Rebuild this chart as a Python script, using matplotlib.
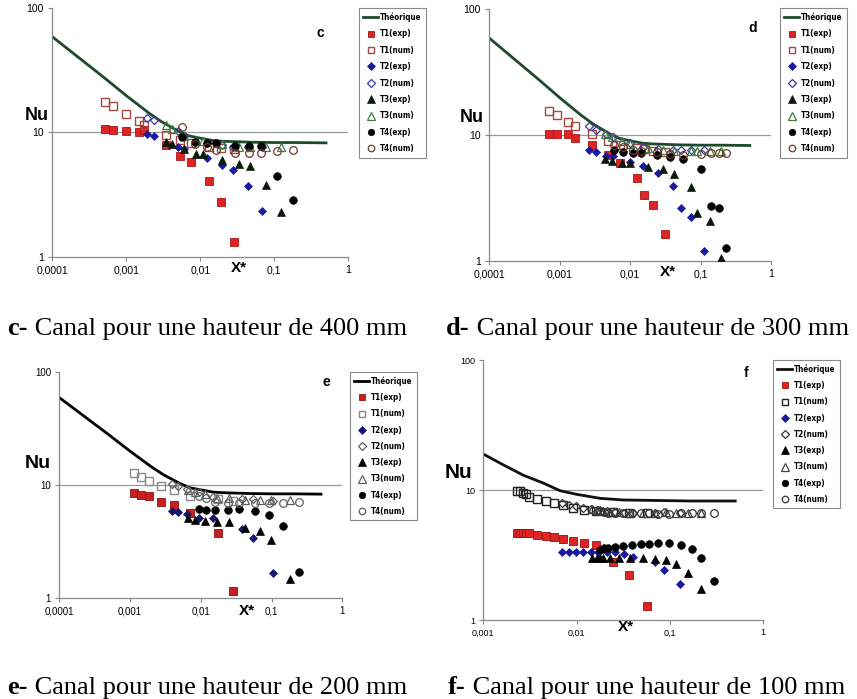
import matplotlib
matplotlib.use('Agg')
import matplotlib.pyplot as plt
from matplotlib.ticker import FixedLocator, NullLocator, FixedFormatter

# ---------------- data ----------------
LABELS = ['Théorique', 'T1(exp)', 'T1(num)', 'T2(exp)', 'T2(num)', 'T3(exp)', 'T3(num)', 'T4(exp)', 'T4(num)']
XT_CDE = [0.0001, 0.001, 0.01, 0.1, 1]
XL_CDE = ['0,0001', '0,001', '0,01', '0,1', '1']
XT_F = [0.001, 0.01, 0.1, 1]
XL_F = ['0,001', '0,01', '0,1', '1']
YT = [1, 10, 100]
YL = ['1', '10', '100']

TH_X = [0.0001, 0.0002, 0.0005, 0.001, 0.002, 0.003, 0.005, 0.007, 0.01, 0.015, 0.02, 0.05, 0.1, 0.2, 0.5]
TH_NU = [59, 42.6, 27.7, 19.8, 14.4, 12.2, 10.3, 9.4, 9.0, 8.6, 8.5, 8.35, 8.3, 8.3, 8.25]
THF_X = [0.001, 0.00164, 0.00268, 0.0044, 0.00663, 0.01, 0.0178, 0.0316, 0.164, 0.5]
THF_NU = [18.9, 15.6, 13.0, 11.3, 9.88, 9.26, 8.63, 8.38, 8.23, 8.23]

# panel c (400 mm)
C_T1_X = [0.00052, 0.00067, 0.00099, 0.0015, 0.00173, 0.0034, 0.0054, 0.0075, 0.0131, 0.0188, 0.0285]
C_T1_EXP = [10.6, 10.5, 10.3, 10.1, 10.4, 7.9, 6.5, 5.75, 4.04, 2.74, 1.32]
C_T1_NUM = [17.7, 16.2, 14.0, 12.3, 11.5, 9.55, 8.7, 8.18, 7.69, 7.55, 7.32]
C_T2_X = [0.00188, 0.00236, 0.00505, 0.0061, 0.0122, 0.0196, 0.0279, 0.0445, 0.0675]
C_T2_EXP = [9.67, 9.3, 7.69, 7.32, 6.27, 5.5, 4.99, 3.72, 2.33]
C_T2_NUM = [13.2, 12.5, 10.2, 9.3, 8.3, 7.9, 7.7, 7.7, 7.7]
C_T3_X = [0.0034, 0.0041, 0.0061, 0.0087, 0.011, 0.0198, 0.033, 0.047, 0.0768, 0.124]
C_T3_EXP = [8.44, 8.06, 7.36, 6.75, 6.73, 6.0, 5.54, 5.33, 3.8, 2.27]
C_T3_NUM = [11.4, 10.6, 9.3, 8.7, 8.5, 8.1, 7.7, 7.7, 7.7, 7.7]
C_T4_X = [0.0056, 0.0085, 0.0122, 0.0161, 0.0294, 0.0459, 0.0661, 0.11, 0.177]
C_T4_EXP = [9.15, 8.4, 8.19, 8.19, 7.79, 7.79, 7.79, 4.49, 2.84]
C_T4_NUM = [11.0, 8.1, 7.6, 7.2, 6.8, 6.8, 6.8, 7.13, 7.2]

# panel d (300 mm)
D_T1_X = [0.00071, 0.0009, 0.00129, 0.00166, 0.00284, 0.00479, 0.00718, 0.01236, 0.01556, 0.0209, 0.0309]
D_T1_EXP = [10.2, 10.2, 10.1, 9.4, 8.32, 6.93, 6.03, 4.57, 3.33, 2.77, 1.62]
D_T1_NUM = [15.6, 14.4, 12.8, 11.9, 10.1, 8.96, 8.33, 7.83, 7.69, 7.5, 7.37]
D_T2_X = [0.0026, 0.00324, 0.00449, 0.00577, 0.00996, 0.01538, 0.0251, 0.041, 0.0527, 0.0723, 0.112]
D_T2_EXP = [7.6, 7.28, 6.85, 6.8, 6.06, 5.7, 5.01, 3.95, 2.61, 2.21, 1.20]
D_T2_NUM = [11.8, 11.0, 10.2, 9.7, 8.6, 8.0, 7.7, 7.6, 7.6, 7.6, 7.6]
D_T3_X = [0.00435, 0.00546, 0.00757, 0.00996, 0.0181, 0.029, 0.042, 0.0723, 0.0899, 0.136, 0.193]
D_T3_EXP = [6.4, 6.21, 5.95, 5.95, 5.6, 5.36, 4.9, 3.83, 2.38, 2.08, 1.06]
D_T3_NUM = [10.2, 9.6, 8.96, 8.5, 7.9, 7.6, 7.5, 7.5, 7.5, 7.4, 7.4]
D_T4_X = [0.00597, 0.00785, 0.0111, 0.01416, 0.0243, 0.0369, 0.057, 0.1007, 0.1396, 0.185, 0.23]
D_T4_EXP = [7.6, 7.36, 7.15, 7.15, 6.93, 6.65, 6.41, 5.33, 2.72, 2.64, 1.26]
D_T4_NUM = [8.3, 8.0, 7.6, 7.5, 7.3, 7.0, 6.9, 7.1, 7.2, 7.2, 7.2]

# panel e (200 mm)
E_T1_X = [0.00113, 0.00141, 0.00185, 0.00274, 0.00413, 0.00703, 0.0173, 0.0288]
E_T1_EXP = [8.38, 8.1, 7.94, 7.08, 6.61, 5.65, 3.71, 1.15]
E_T1_NUM = [12.6, 11.6, 10.8, 9.73, 8.97, 7.99, 7.47, 7.22]
E_T2_X = [0.00387, 0.00471, 0.0063, 0.00953, 0.01503, 0.0378, 0.0552, 0.1035]
E_T2_EXP = [5.85, 5.69, 5.5, 5.1, 5.03, 4.06, 3.35, 1.64]
E_T2_NUM = [10.1, 9.7, 9.1, 8.67, 7.83, 7.42, 7.42, 7.22]
E_T3_X = [0.00665, 0.00828, 0.01146, 0.0171, 0.0253, 0.042, 0.0685, 0.097, 0.182]
E_T3_EXP = [5.04, 4.87, 4.8, 4.71, 4.65, 4.11, 3.89, 3.24, 1.47]
E_T3_NUM = [8.97, 8.67, 8.2, 7.67, 7.57, 7.32, 7.32, 7.32, 7.32]
E_T4_X = [0.00942, 0.0117, 0.0158, 0.0239, 0.035, 0.0583, 0.0929, 0.1436, 0.244]
E_T4_EXP = [6.05, 5.97, 5.97, 5.97, 6.09, 5.89, 5.39, 4.33, 1.70]
E_T4_NUM = [7.94, 7.57, 7.08, 6.93, 6.93, 6.93, 6.93, 6.93, 7.08]

# panel f (100 mm)
F_T1_X = [0.00231, 0.00247, 0.00264, 0.00287, 0.00311, 0.00373, 0.00469, 0.00571, 0.00708, 0.00906, 0.0121, 0.016, 0.0245, 0.0364, 0.0562]
F_T1_EXP = [4.7, 4.7, 4.7, 4.66, 4.66, 4.51, 4.45, 4.33, 4.2, 4.05, 3.94, 3.75, 2.77, 2.22, 1.29]
F_T1_NUM = [9.8, 9.75, 9.5, 9.3, 8.9, 8.6, 8.3, 7.9, 7.6, 7.3, 7.0, 6.9, 6.8, 6.7, 6.7]
F_T2_X = [0.00701, 0.00833, 0.00975, 0.01159, 0.0141, 0.0171, 0.0209, 0.0258, 0.0325, 0.0404, 0.069, 0.0869, 0.128]
F_T2_EXP = [3.32, 3.32, 3.32, 3.32, 3.32, 3.32, 3.32, 3.32, 3.22, 3.07, 2.78, 2.42, 1.88]
F_T2_NUM = [7.9, 7.7, 7.5, 7.3, 7.1, 7.0, 6.9, 6.8, 6.7, 6.7, 6.7, 6.8, 6.7]
F_T3_X = [0.0147, 0.0164, 0.0178, 0.0193, 0.0228, 0.0284, 0.0372, 0.0518, 0.069, 0.0906, 0.116, 0.157, 0.213]
F_T3_EXP = [2.98, 2.98, 2.98, 3.02, 3.02, 2.98, 2.98, 2.98, 2.93, 2.9, 2.68, 2.29, 1.72]
F_T3_NUM = [7.1, 7.0, 7.0, 6.9, 6.8, 6.8, 6.7, 6.7, 6.7, 6.8, 6.7, 6.7, 6.7]
F_T4_X = [0.0178, 0.0196, 0.0218, 0.0258, 0.0316, 0.0388, 0.0485, 0.0596, 0.075, 0.0975, 0.131, 0.171, 0.215, 0.299]
F_T4_EXP = [3.45, 3.56, 3.6, 3.66, 3.73, 3.78, 3.84, 3.87, 3.89, 3.89, 3.78, 3.52, 3.01, 2.0]
F_T4_NUM = [6.9, 6.8, 6.7, 6.6, 6.6, 6.6, 6.6, 6.6, 6.5, 6.5, 6.6, 6.6, 6.6, 6.6]

CAPTIONS = [('c-', ' Canal pour une hauteur de 400 mm'),
            ('d-', ' Canal pour une hauteur de 300 mm'),
            ('e-', ' Canal pour une hauteur de 200 mm'),
            ('f-', ' Canal pour une hauteur de 100 mm')]

# ---------------- drawing ----------------
W, H = 857, 699
fig = plt.figure(figsize=(W / 100, H / 100), dpi=100)
SANS = 'Liberation Sans'
SERIF = 'Liberation Serif'


def rect(l, t, r, b):
    return [l / W, 1 - b / H, (r - l) / W, (b - t) / H]


COL_CD = dict(th='#1d4a2a', r='#e02424', re='#a81515', rn='#a5483e', b='#1a1aa0', bn='#3b3b9c',
              k3='#0b1a0b', g='#3f7c3f', k4='#000000', bn4='#6b3b2b')
COL_E = dict(th='#000000', r='#c82020', re='#8a1010', rn='#8a8a8a', b='#16166e', bn='#606060',
             k3='#000000', g='#606060', k4='#000000', bn4='#606060')
COL_F = dict(th='#111111', r='#e02424', re='#9a1010', rn='#222222', b='#1a1aa0', bn='#333333',
             k3='#000000', g='#444444', k4='#000000', bn4='#333333')


def panel(box, xlim, xt, xl, thx, thy, data, col, letter, lpos, nupos, nufs, xspos, legbox, tfs, lsp, lfs):
    ax = fig.add_axes(rect(*box))
    ax.set_xscale('log')
    ax.set_yscale('log')
    ax.set_xlim(*xlim)
    ax.set_ylim(1, 100)
    ax.axhline(10, color='#9a9a9a', lw=0.9, zorder=1)
    hs = []
    hs += ax.plot(thx, thy, color=col['th'], lw=2.0, zorder=2)
    (t1x, t1e, t1n), (t2x, t2e, t2n), (t3x, t3e, t3n), (t4x, t4e, t4n) = data
    kw = dict(ls='none', zorder=3)
    hs += ax.plot(t1x, t1e, marker='s', ms=5.5, mfc=col['r'], mec=col['re'], mew=0.6, **kw)
    hs += ax.plot(t1x, t1n, marker='s', ms=5.5, mfc='none', mec=col['rn'], mew=1.0, **kw)
    hs += ax.plot(t2x, t2e, marker='D', ms=4.3, mfc=col['b'], mec=col['b'], mew=0.5, **kw)
    hs += ax.plot(t2x, t2n, marker='D', ms=4.3, mfc='none', mec=col['bn'], mew=0.9, **kw)
    hs += ax.plot(t3x, t3e, marker='^', ms=6, mfc=col['k3'], mec=col['k3'], mew=0.5, **kw)
    hs += ax.plot(t3x, t3n, marker='^', ms=6, mfc='none', mec=col['g'], mew=0.9, **kw)
    hs += ax.plot(t4x, t4e, marker='o', ms=5.5, mfc=col['k4'], mec=col['k4'], mew=0.5, **kw)
    hs += ax.plot(t4x, t4n, marker='o', ms=5.5, mfc='none', mec=col['bn4'], mew=0.9, **kw)

    for s in ('top', 'right'):
        ax.spines[s].set_visible(False)
    for s in ('left', 'bottom'):
        ax.spines[s].set_color('#8a8a8a')
        ax.spines[s].set_linewidth(0.9)
    ax.xaxis.set_major_locator(FixedLocator(xt))
    ax.xaxis.set_major_formatter(FixedFormatter(xl))
    ax.yaxis.set_major_locator(FixedLocator(YT))
    ax.yaxis.set_major_formatter(FixedFormatter(YL))
    ax.xaxis.set_minor_locator(NullLocator())
    ax.yaxis.set_minor_locator(NullLocator())
    ax.tick_params(length=3, width=0.8, color='#8a8a8a', labelsize=tfs, pad=3)
    for lab in ax.get_xticklabels() + ax.get_yticklabels():
        lab.set_family(SANS)

    ax.text(lpos[0], lpos[1], letter, transform=ax.transAxes, ha='center', va='center',
            fontsize=10, fontweight='bold', family=SANS)
    fig.text(nupos[0] / W, 1 - nupos[1] / H, 'Nu', ha='center', va='center',
             fontsize=nufs, fontweight='bold', family=SANS)
    fig.text(xspos[0] / W, 1 - xspos[1] / H, 'X*', ha='center', va='center',
             fontsize=11, fontweight='bold', family=SANS)

    leg = ax.legend(hs, LABELS, loc='upper left', bbox_to_anchor=(legbox[0] / W, 1 - legbox[1] / H),
                    bbox_transform=fig.transFigure,
                    prop=dict(family='DejaVu Sans', stretch='condensed', weight='bold', size=lfs),
                    frameon=True, fancybox=False, edgecolor='#8a8a8a', framealpha=1,
                    borderpad=0.55, labelspacing=lsp, handlelength=1.8, handletextpad=0.3,
                    borderaxespad=0, markerscale=0.85)
    leg.get_frame().set_linewidth(0.8)
    return ax


panel((52.3, 8.3, 348.3, 256.7), (1e-4, 1), XT_CDE, XL_CDE, TH_X, TH_NU,
      [(C_T1_X, C_T1_EXP, C_T1_NUM), (C_T2_X, C_T2_EXP, C_T2_NUM),
       (C_T3_X, C_T3_EXP, C_T3_NUM), (C_T4_X, C_T4_EXP, C_T4_NUM)],
      COL_CD, 'c', (0.905, 0.90), (37, 116), 13, (239, 268), (359, 8), 7.5, 0.92, 5.8)

panel((489.3, 9.3, 771, 260.7), (1e-4, 1), XT_CDE, XL_CDE, TH_X, TH_NU,
      [(D_T1_X, D_T1_EXP, D_T1_NUM), (D_T2_X, D_T2_EXP, D_T2_NUM),
       (D_T3_X, D_T3_EXP, D_T3_NUM), (D_T4_X, D_T4_EXP, D_T4_NUM)],
      COL_CD, 'd', (0.935, 0.924), (472, 117), 13, (668, 272), (780, 8), 7.5, 0.92, 5.8)

panel((59.3, 371.7, 342.3, 597.7), (1e-4, 1), XT_CDE, XL_CDE, TH_X, TH_NU,
      [(E_T1_X, E_T1_EXP, E_T1_NUM), (E_T2_X, E_T2_EXP, E_T2_NUM),
       (E_T3_X, E_T3_EXP, E_T3_NUM), (E_T4_X, E_T4_EXP, E_T4_NUM)],
      COL_E, 'e', (0.945, 0.956), (38, 463), 14, (247, 611), (350, 372), 7, 0.9, 5.8)

panel((483.3, 360, 763.3, 620), (1e-3, 1), XT_F, XL_F, THF_X, THF_NU,
      [(F_T1_X, F_T1_EXP, F_T1_NUM), (F_T2_X, F_T2_EXP, F_T2_NUM),
       (F_T3_X, F_T3_EXP, F_T3_NUM), (F_T4_X, F_T4_EXP, F_T4_NUM)],
      COL_F, 'f', (0.938, 0.949), (459, 472), 15, (626, 627), (773, 360), 6.5, 0.9, 5.8)

# captions
renderer = fig.canvas.get_renderer()
CAP_POS = [(7, 335), (446, 335), (7, 694), (448, 694)]
for (bold, rest), (x0, yb) in zip(CAPTIONS, CAP_POS):
    t1 = fig.text(x0 / W, 1 - yb / H, bold, fontsize=19, fontweight='bold', family=SERIF, va='baseline')
    bb = t1.get_window_extent(renderer)
    fig.text(bb.x1 / W, 1 - yb / H, rest, fontsize=19, family=SERIF, va='baseline')

fig.savefig('out.png', dpi=100)
